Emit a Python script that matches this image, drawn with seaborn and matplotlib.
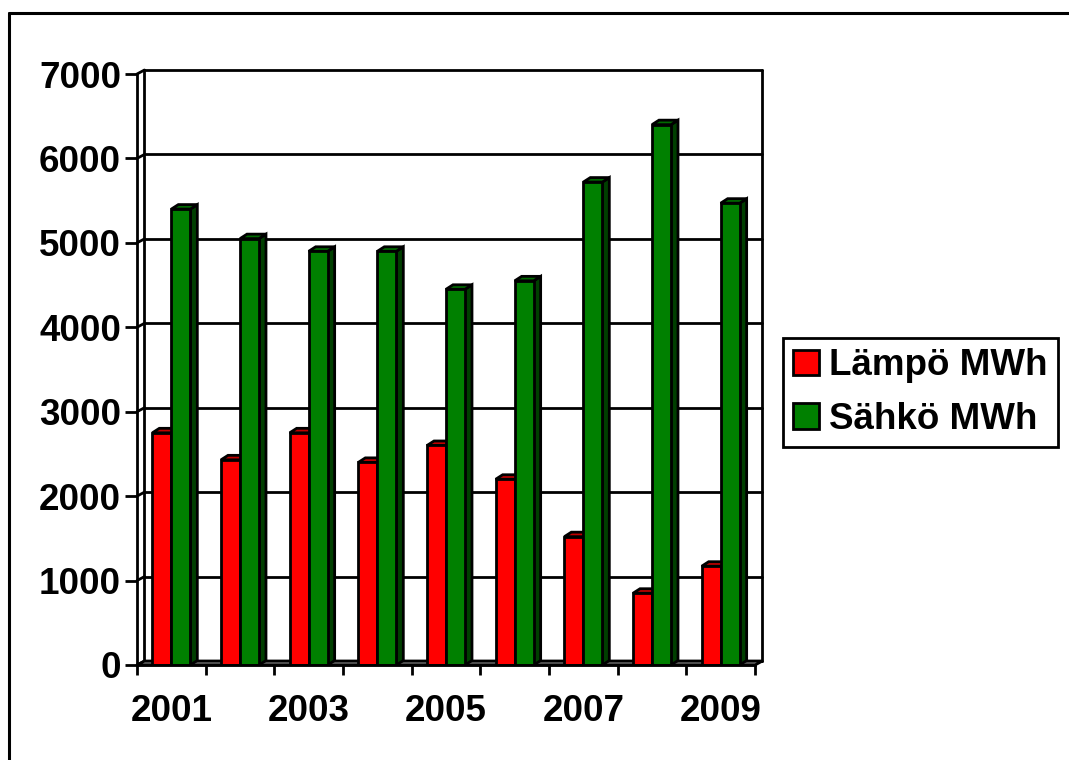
import matplotlib
matplotlib.use("Agg")
import matplotlib.pyplot as plt
from matplotlib.patches import Polygon, Patch
from matplotlib.lines import Line2D
import numpy as np
import pandas as pd
import seaborn as sns

# Annual energy use, MWh
years = ["2001", "2002", "2003", "2004", "2005", "2006", "2007", "2008", "2009"]
lampo = [2750, 2430, 2750, 2400, 2600, 2200, 1520, 850, 1170]
sahko = [5400, 5050, 4900, 4900, 4450, 4550, 5720, 6400, 5470]
series = ["Lämpö MWh", "Sähkö MWh"]
yticks = [0, 1000, 2000, 3000, 4000, 5000, 6000, 7000]

front_colors = ["#ff0000", "#008000"]
side_colors = ["#800000", "#003f00"]
top_colors = ["#c00000", "#006a00"]

sns.set_theme(style="white")
plt.rcParams["font.family"] = ["Liberation Sans", "DejaVu Sans"]
plt.rcParams["font.weight"] = "bold"
for key in ["text.color", "axes.labelcolor", "xtick.color", "ytick.color"]:
    plt.rcParams[key] = "black"

LW = 2.0

df = pd.DataFrame({
    "Vuosi": years * 2,
    "MWh": lampo + sahko,
    "Sarja": [series[0]] * len(years) + [series[1]] * len(years),
})

W, H = 1069, 760
fig = plt.figure(figsize=(W / 100, H / 100), dpi=100)
ax = fig.add_axes([137 / W, 95 / H, 618 / W, 591 / H])

sns.barplot(data=df, x="Vuosi", y="MWh", hue="Sarja", palette=front_colors,
            width=0.553, saturation=1, edgecolor="black", linewidth=LW,
            legend=False, ax=ax, order=years, hue_order=series)

ax.set_xlim(-0.5, 8.5)
ax.set_ylim(0, 7000)

# pixel -> data conversion for the pseudo-3D depth offsets
def px_to_data(dx_px, dy_px):
    inv = ax.transData.inverted()
    p0 = inv.transform(ax.transData.transform((0, 0)))
    p1 = inv.transform(ax.transData.transform((0, 0)) + np.array([dx_px, dy_px]))
    return p1 - p0

wdx, wdy = px_to_data(7.5, 4.0)      # wall depth
bdx, bdy = px_to_data(7.0, 4.5)      # bar depth
x0, x1 = -0.5, 8.5

# back wall grid lines, left wall diagonals, wall edges
for v in yticks:
    ax.add_line(Line2D([x0 + wdx, x1 + wdx], [v + wdy, v + wdy], color="black",
                       lw=LW, zorder=1, clip_on=False))
    ax.add_line(Line2D([x0, x0 + wdx], [v, v + wdy], color="black",
                       lw=LW, zorder=1, clip_on=False))
ax.add_line(Line2D([x0 + wdx, x0 + wdx], [wdy, 7000 + wdy], color="black",
                   lw=LW, zorder=1, clip_on=False))
ax.add_line(Line2D([x1 + wdx, x1 + wdx], [wdy, 7000 + wdy], color="black",
                   lw=LW, zorder=1, clip_on=False))

# floor
ax.add_patch(Polygon([(x0, 0), (x1, 0), (x1 + wdx, wdy), (x0 + wdx, wdy)],
                     closed=True, facecolor="#808080", edgecolor="black",
                     lw=LW, zorder=1.5, clip_on=False))

# side and top faces of each bar
bars = [p for p in ax.patches if not isinstance(p, Polygon)]
n = len(years)
for i, bar in enumerate(bars):
    if bar.get_height() <= 0:
        continue
    k = 0 if i < n else 1
    bar.set_zorder(3)
    bx, bw, bh = bar.get_x(), bar.get_width(), bar.get_height()
    side = Polygon([(bx + bw, 0), (bx + bw + bdx, bdy), (bx + bw + bdx, bh + bdy), (bx + bw, bh)],
                   closed=True, facecolor=side_colors[k], edgecolor="black", lw=LW, zorder=2.5 + 0.1 * k)
    top = Polygon([(bx, bh), (bx + bdx, bh + bdy), (bx + bw + bdx, bh + bdy), (bx + bw, bh)],
                  closed=True, facecolor=top_colors[k], edgecolor="black", lw=LW, zorder=2.5 + 0.1 * k)
    ax.add_patch(side)
    ax.add_patch(top)

# axes styling
for s in ["top", "right"]:
    ax.spines[s].set_visible(False)
for s in ["left", "bottom"]:
    ax.spines[s].set_linewidth(LW)
    ax.spines[s].set_color("black")
    ax.spines[s].set_zorder(4)

ax.set_yticks(yticks)
ax.set_yticklabels([str(v) for v in yticks], fontsize=26.5, fontweight="bold")
ax.tick_params(axis="y", direction="out", length=8.6, width=LW, pad=3.0, color="black", left=True)

ax.set_xticks(range(n))
ax.set_xticklabels([y if i % 2 == 0 else "" for i, y in enumerate(years)],
                   fontsize=26.5, fontweight="bold")
ax.set_xticks(np.arange(-0.5, n, 1.0), minor=True)
ax.tick_params(axis="x", which="major", length=0, pad=21)
ax.tick_params(axis="x", which="minor", direction="out", length=7.5, width=LW,
               color="black", bottom=True)
ax.set_xlabel("")
ax.set_ylabel("")
ax.grid(False)

# legend
handles = [Patch(facecolor=c, edgecolor="black", linewidth=LW) for c in front_colors]
leg = fig.legend(handles, series, loc="upper left",
                 bbox_to_anchor=(783 / W, 1 - 338 / H), borderaxespad=0,
                 frameon=True, fancybox=False, edgecolor="black", framealpha=1,
                 prop={"size": 26.5, "weight": "bold"}, handlelength=0.7,
                 handleheight=0.7, handletextpad=0.28, borderpad=0.28,
                 labelspacing=0.5)
leg.get_frame().set_linewidth(LW)

# outer frame around the chart area
fig.add_artist(Line2D([9 / W, 1.0], [1 - 13 / H, 1 - 13 / H], transform=fig.transFigure,
                      color="black", lw=2.2))
fig.add_artist(Line2D([9 / W, 9 / W], [0, 1 - 13 / H], transform=fig.transFigure,
                      color="black", lw=2.2))

fig.savefig("out.png", dpi=100)
